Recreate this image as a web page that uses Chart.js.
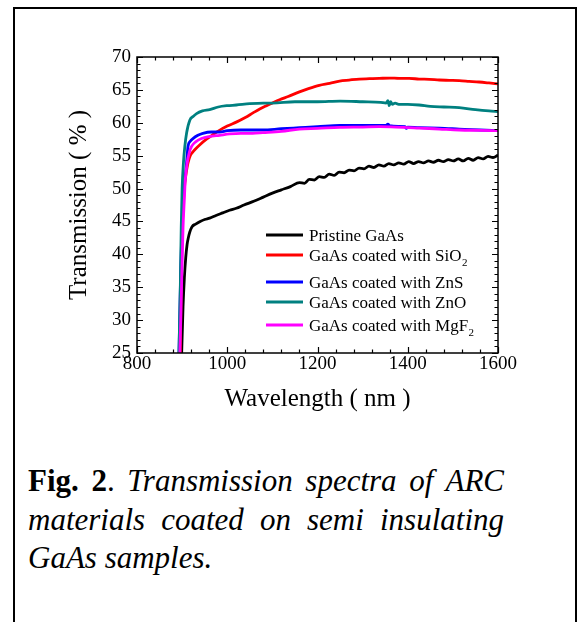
<!DOCTYPE html>
<html>
<head>
<meta charset="utf-8">
<script src="https://cdn.jsdelivr.net/npm/chart.js@4/dist/chart.umd.min.js"></script>
<style>
  html, body { margin: 0; padding: 0; background: #fff; width: 579px; height: 622px; overflow: hidden; }
  #frame { position: absolute; left: 13px; top: 7px; width: 560px; height: 640px;
           border-left: 2px solid #000; border-top: 2px solid #000; border-right: 2px solid #000; }
  #chart { position: absolute; left: 0; top: 0; }
  #caption { position: absolute; left: 28px; top: 462px; width: 476px;
             font-family: 'Liberation Serif', 'Times New Roman', serif; font-size: 31px;
             line-height: 38.5px; color: #000; }
  #caption .j { text-align: justify; text-align-last: justify; white-space: nowrap; }
  #caption .l { text-align: left; white-space: nowrap; }
</style>
</head>
<body>
<div id="frame"></div>
<canvas id="chart" width="579" height="430"></canvas>
<div id="caption">
  <div class="j"><b>Fig. 2</b>. <i>Transmission spectra of ARC</i></div>
  <div class="j"><i>materials coated on semi insulating</i></div>
  <div class="l"><i>GaAs samples.</i></div>
</div>
<script>
// ---------------- data ----------------
const seriesLabels = ['Pristine GaAs', 'GaAs coated with SiO_2', 'GaAs coated with ZnS',
                      'GaAs coated with ZnO', 'GaAs coated with MgF_2'];
const seriesColors = ['#000000', '#ff0000', '#0000ff', '#008080', '#ff00ff'];

const xTickLabels = [800, 1000, 1200, 1400, 1600];
const yTickLabels = [25, 30, 35, 40, 45, 50, 55, 60, 65, 70];

const wlPristine = [895, 899, 902, 905, 908, 911, 914, 917, 922, 930, 940, 950, 961, 975, 990, 1005, 1020, 1037,
  1060, 1080, 1100, 1120, 1140, 1160, 1171, 1182, 1193, 1204, 1215, 1226, 1237,
  1248, 1259, 1270, 1281, 1292, 1303, 1314, 1325, 1336, 1347, 1358, 1369, 1380, 1391, 1402, 1413, 1424, 1435,
  1446, 1457, 1468, 1479, 1490, 1501, 1512, 1523, 1534, 1545, 1556, 1567, 1578, 1589, 1600];
const tPristine = [15, 25, 32, 36.5, 39.5, 41.5, 42.6, 43.4, 44.2, 44.6, 45.0, 45.3, 45.5, 45.9, 46.3, 46.7, 47.0, 47.5,
  48.1, 48.7, 49.3, 49.8, 50.3, 50.9, 50.8, 51.4, 51.3, 51.8, 51.7, 52.2, 52.0,
  52.5, 52.4, 52.8, 52.7, 53.1, 53.0, 53.4, 53.2, 53.6, 53.4, 53.8, 53.6, 53.9, 53.7, 54.1, 53.8, 54.1, 53.9,
  54.2, 54.0, 54.3, 54.1, 54.4, 54.2, 54.5, 54.2, 54.6, 54.3, 54.7, 54.5, 54.9, 54.7, 55.1];

const wlSiO2 = [890, 896, 898, 900, 903, 906, 910, 913, 918, 923, 928, 940, 954, 966, 979, 1000, 1020, 1040, 1057,
  1072, 1087, 1100, 1116, 1135, 1160, 1180, 1204, 1227, 1249, 1270, 1293, 1315, 1337, 1360, 1381, 1403, 1425,
  1448, 1470, 1492, 1514, 1536, 1558, 1580, 1600];
const tSiO2 = [15, 25, 36, 43, 48, 50.8, 52.8, 53.9, 55.0, 55.5, 55.9, 56.7, 57.5, 58.1, 58.7, 59.5, 60.1, 60.8, 61.5,
  62.1, 62.6, 63.0, 63.5, 64.0, 64.7, 65.2, 65.7, 66.0, 66.35, 66.5, 66.65, 66.7, 66.75, 66.8, 66.75, 66.75, 66.65,
  66.6, 66.5, 66.45, 66.4, 66.3, 66.2, 66.05, 65.9];

const wlZnS = [888, 893, 897, 900, 903, 906, 910, 913, 918, 924, 935, 946, 965, 983, 1000, 1030, 1079, 1120, 1160,
  1200, 1249, 1300, 1337, 1352, 1356, 1360, 1380, 1394, 1397, 1400, 1425, 1470, 1514, 1560, 1600];
const tZnS = [15, 25, 38, 45, 49, 51.3, 54, 56.4, 57.2, 57.6, 58.1, 58.4, 58.6, 58.6, 58.8, 58.9, 58.9, 59.1, 59.25,
  59.4, 59.6, 59.6, 59.6, 59.6, 59.8, 59.55, 59.45, 59.4, 59.15, 59.35, 59.25, 59.2, 59.05, 58.9, 58.8];

const wlZnO = [888, 893, 896, 898, 900, 903, 906, 910, 917, 925, 932, 945, 961, 980, 1000, 1020, 1050, 1080, 1100,
  1150, 1200, 1250, 1300, 1340, 1352, 1356, 1359, 1362, 1366, 1372, 1380, 1400, 1425, 1450, 1480,
  1514, 1550, 1580, 1600];
const tZnO = [20, 25, 35, 44, 50, 54, 56.4, 58.5, 60.4, 61.0, 61.4, 61.8, 62.0, 62.4, 62.6, 62.7, 62.9, 63.0, 63.0,
  63.2, 63.2, 63.3, 63.2, 63.1, 63.0, 63.35, 62.6, 63.2, 62.8, 63.0, 62.8, 62.8, 62.7, 62.5, 62.4,
  62.3, 62.0, 61.8, 61.7];

const wlMgF2 = [888, 895, 899, 902, 905, 907, 911, 916, 921, 930, 943, 960, 983, 1005, 1030, 1056, 1079, 1120, 1160,
  1200, 1249, 1300, 1337, 1374, 1425, 1470, 1514, 1560, 1600];
const tMgF2 = [15, 25, 36, 44, 48.5, 51.3, 53.8, 55.5, 56.4, 57.1, 57.6, 57.9, 58.1, 58.3, 58.4, 58.4, 58.5, 58.7,
  59.05, 59.15, 59.3, 59.35, 59.4, 59.35, 59.2, 59.05, 58.9, 58.85, 58.8];

const wavelengths = [wlPristine, wlSiO2, wlZnS, wlZnO, wlMgF2];
const transmissions = [tPristine, tSiO2, tZnS, tZnO, tMgF2];
// -------------------------------------------------------------------------

const SERIF = "'Liberation Serif', 'Times New Roman', serif";

const datasets = seriesLabels.map((lab, i) => ({
  label: lab,
  data: wavelengths[i].map((w, k) => ({ x: w, y: transmissions[i][k] })),
  borderColor: seriesColors[i],
  backgroundColor: seriesColors[i],
  borderWidth: 2.8,
  pointRadius: 0,
  fill: false,
  cubicInterpolationMode: 'monotone',
  order: seriesLabels.length - i   // last series drawn on top
}));

const framePlugin = {
  id: 'frameTicks',
  afterDatasetsDraw(chart) {
    const { ctx, chartArea: a, scales: { x, y } } = chart;
    ctx.save();
    ctx.strokeStyle = '#000';
    ctx.lineWidth = 1.5;
    ctx.strokeRect(a.left, a.top, a.right - a.left, a.bottom - a.top);
    ctx.lineWidth = 1.2;
    const major = 6, minor = 3.5;
    for (let v = x.min; v <= x.max + 0.001; v += 40) {
      const px = Math.round(x.getPixelForValue(v)) + 0.5;
      const len = xTickLabels.includes(v) ? major : minor;
      ctx.beginPath();
      ctx.moveTo(px, a.bottom); ctx.lineTo(px, a.bottom - len);
      ctx.moveTo(px, a.top); ctx.lineTo(px, a.top + len);
      ctx.stroke();
    }
    for (let v = y.min; v <= y.max + 0.001; v += 1) {
      const py = Math.round(y.getPixelForValue(v)) + 0.5;
      const len = yTickLabels.includes(v) ? major : minor;
      ctx.beginPath();
      ctx.moveTo(a.left, py); ctx.lineTo(a.left + len, py);
      ctx.moveTo(a.right, py); ctx.lineTo(a.right - len, py);
      ctx.stroke();
    }
    // legend inside the plot
    const rowsY = [235, 255, 282, 302, 325];
    const x0 = a.left + 129, x1 = a.left + 166, tx = a.left + 172;
    ctx.textBaseline = 'alphabetic';
    ctx.textAlign = 'left';
    chart.data.datasets.forEach((ds, i) => {
      const yy = rowsY[i];
      ctx.strokeStyle = ds.borderColor;
      ctx.lineWidth = 3;
      ctx.beginPath(); ctx.moveTo(x0, yy); ctx.lineTo(x1, yy); ctx.stroke();
      ctx.fillStyle = '#000';
      const parts = ds.label.split('_');
      ctx.font = '17px ' + SERIF;
      ctx.fillText(parts[0], tx, yy + 6);
      if (parts.length > 1) {
        const w = ctx.measureText(parts[0]).width;
        ctx.font = '11px ' + SERIF;
        ctx.fillText(parts[1], tx + w + 0.5, yy + 11);
      }
    });
    ctx.restore();
  }
};

new Chart(document.getElementById('chart'), {
  type: 'line',
  data: { datasets },
  options: {
    responsive: false,
    animation: false,
    devicePixelRatio: 1,
    layout: { padding: { left: 58, top: 57, right: 81, bottom: 0 } },
    plugins: { legend: { display: false }, tooltip: { enabled: false } },
    scales: {
      x: {
        type: 'linear', min: 800, max: 1600,
        afterBuildTicks(s) { s.ticks = xTickLabels.map(v => ({ value: v })); },
        ticks: { color: '#000', font: { family: SERIF, size: 19 }, padding: 0, maxRotation: 0, autoSkip: false,
                 callback: v => String(v) },
        grid: { display: false, drawTicks: false },
        border: { display: false },
        title: { display: true, text: 'Wavelength ( nm )', color: '#000',
                 font: { family: SERIF, size: 25 }, padding: { top: 0, bottom: 16 } },
        afterFit(s) { s.height = 77; }
      },
      y: {
        type: 'linear', min: 25, max: 70,
        afterBuildTicks(s) { s.ticks = yTickLabels.map(v => ({ value: v })); },
        ticks: { color: '#000', font: { family: SERIF, size: 19 }, padding: 6, autoSkip: false,
                 callback: v => String(v) },
        grid: { display: false, drawTicks: false },
        border: { display: false },
        title: { display: true, text: 'Transmission ( % )', color: '#000',
                 font: { family: SERIF, size: 25 }, padding: { top: 6, bottom: 0 } },
        afterFit(s) { s.width = 79; }
      }
    }
  },
  plugins: [framePlugin]
});
</script>
</body>
</html>
